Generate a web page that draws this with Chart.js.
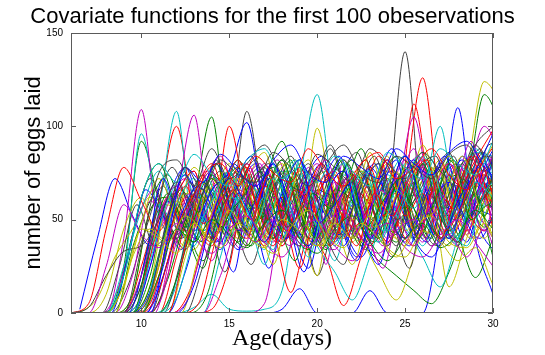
<!DOCTYPE html>
<html>
<head>
<meta charset="utf-8">
<script src="https://cdn.jsdelivr.net/npm/chart.js@4/dist/chart.umd.min.js"></script>
<style>
  html, body { margin: 0; padding: 0; background: #fff; }
  canvas { display: block; }
</style>
</head>
<body>
<canvas id="eggChart" width="545" height="355"></canvas>
<script>
const ageWhole = [6, 7, 8, 9, 10, 11, 12, 13, 14, 15, 16, 17, 18, 19, 20, 21, 22, 23, 24, 25, 26, 27, 28, 29, 30]
const ageQuarter = [6.25, 7.25, 8.25, 9.25, 10.25, 11.25, 12.25, 13.25, 14.25, 15.25, 16.25, 17.25, 18.25, 19.25, 20.25, 21.25, 22.25, 23.25, 24.25, 25.25, 26.25, 27.25, 28.25, 29.25, 30.25]
const ageHalf = [6.5, 7.5, 8.5, 9.5, 10.5, 11.5, 12.5, 13.5, 14.5, 15.5, 16.5, 17.5, 18.5, 19.5, 20.5, 21.5, 22.5, 23.5, 24.5, 25.5, 26.5, 27.5, 28.5, 29.5, 30.5]
const ageThreeQuarter = [6.75, 7.75, 8.75, 9.75, 10.75, 11.75, 12.75, 13.75, 14.75, 15.75, 16.75, 17.75, 18.75, 19.75, 20.75, 21.75, 22.75, 23.75, 24.75, 25.75, 26.75, 27.75, 28.75, 29.75, 30.75]
const xTicks = [10, 15, 20, 25, 30]
const yTicks = [0, 50, 100, 150]

// eggs laid per fly
const fly01 = [2, 40, 72, 52, 36, 62, 78, 50, 34, 64, 80, 56, 40, 66, 52, 36, 64, 80, 54, 40, 66, 58, 38, 72, 82]
const fly02 = [0, 0, 0, 25, 92, 60, 38, 58, 74, 50, 62, 78, 48, 36, 66, 58, 40, 64, 82, 56, 44, 66, 74, 52, 74]
const fly03 = [0, 0, 0, 0, 25, 60, 100, 52, 36, 66, 78, 50, 58, 72, 40, 52, 74, 60, 38, 64, 82, 58, 40, 62, 70]
const fly04 = [0, 0, 0, 20, 96, 52, 40, 64, 56, 76, 50, 34, 62, 74, 54, 58, 68, 40, 56, 78, 52, 64, 36, 62, 80]
const fly05 = [0, 0, 0, 40, 109, 46, 64, 76, 40, 58, 72, 54, 36, 62, 80, 56, 40, 66, 52, 38, 64, 78, 52, 60, 86]
const fly06 = [0, 8, 30, 45, 62, 48, 36, 66, 56, 40, 72, 52, 42, 64, 76, 50, 38, 62, 56, 72, 48, 36, 66, 74, 60]
const fly07 = [0, 0, 0, 0, 10, 55, 42, 62, 76, 52, 108, 56, 38, 52, 20, 50, 66, 74, 52, 40, 62, 78, 56, 68, 58]
const fly08 = [0, 0, 0, 0, 0, 20, 58, 44, 66, 76, 102, 54, 38, 62, 72, 50, 58, 78, 62, 40, 56, 72, 80, 58, 52]
const fly09 = [0, 0, 0, 0, 15, 58, 40, 62, 105, 44, 60, 74, 50, 36, 64, 58, 72, 44, 56, 78, 54, 38, 62, 76, 60]
const fly10 = [0, 0, 0, 0, 0, 0, 30, 62, 48, 100, 58, 38, 58, 76, 52, 40, 66, 58, 36, 62, 78, 56, 68, 86, 64]
const fly11 = [0, 0, 0, 0, 10, 55, 108, 44, 60, 72, 42, 58, 76, 52, 38, 64, 42, 56, 74, 58, 36, 62, 78, 52, 68]
const fly12 = [0, 0, 0, 0, 0, 30, 62, 106, 46, 58, 72, 42, 60, 78, 52, 38, 66, 58, 40, 64, 76, 52, 36, 68, 84]
const fly13 = [0, 0, 0, 0, 0, 20, 55, 66, 42, 58, 72, 48, 62, 40, 99, 52, 38, 62, 76, 54, 40, 60, 78, 56, 66]
const fly14 = [0, 0, 0, 0, 15, 52, 64, 40, 62, 76, 44, 58, 72, 42, 54, 78, 60, 40, 58, 140, 50, 36, 64, 76, 56]
const fly15 = [0, 0, 0, 0, 0, 25, 62, 38, 52, 80, 58, 24, 60, 72, 84, 50, 28, 64, 88, 58, 40, 70, 52, 86, 76]
const fly16 = [0, 0, 0, 0, 20, 60, 50, 38, 64, 76, 48, 40, 68, 58, 44, 62, 76, 52, 38, 60, 78, 56, 68, 117, 100]
const fly17 = [0, 0, 0, 0, 0, 25, 65, 48, 38, 70, 58, 36, 60, 78, 52, 40, 66, 58, 38, 70, 126, 58, 38, 56, 74]
const fly18 = [0, 0, 0, 0, 0, 0, 0, 3, 10, 2, 1, 2, 12, 70, 117, 56, 44, 58, 68, 48, 54, 72, 58, 46, 62]
const fly19 = [0, 0, 0, 0, 0, 0, 0, 0, 0, 0, 0, 5, 55, 66, 40, 34, 56, 68, 48, 58, 72, 42, 54, 74, 64]
const fly20 = [0, 0, 0, 10, 55, 62, 42, 58, 74, 54, 38, 62, 70, 46, 36, 60, 76, 56, 40, 64, 74, 54, 76, 124, 112]
const fly21 = [0, 0, 25, 58, 36, 48, 70, 52, 22, 62, 78, 56, 40, 66, 90, 60, 38, 52, 74, 46, 62, 84, 56, 70, 66]
const fly22 = [0, 0, 0, 0, 0, 0, 0, 0, 0, 0, 0, 0, 2, 13, 0, 0, 0, 12, 0, 0, 0, 45, 110, 40, 10]
const fly23 = [0, 0, 0, 10, 55, 62, 46, 58, 70, 50, 60, 40, 54, 64, 44, 50, 38, 28, 20, 12, 5, 22, 48, 62, 72]
const fly24 = [0, 0, 0, 0, 30, 62, 44, 58, 72, 52, 38, 60, 76, 54, 40, 64, 56, 70, 46, 112, 58, 40, 56, 74, 62]
const fly25 = [0, 0, 0, 0, 20, 58, 46, 66, 42, 60, 74, 52, 40, 66, 56, 38, 60, 74, 52, 62, 66, 100, 52, 60, 74]
const fly26 = [0, 0, 0, 0, 25, 58, 72, 44, 60, 76, 52, 38, 66, 58, 42, 70, 56, 40, 62, 105, 56, 42, 70, 100, 84]
const fly27 = [0, 0, 0, 0, 15, 58, 48, 62, 54, 44, 66, 58, 48, 62, 44, 54, 40, 22, 7, 30, 58, 14, 40, 62, 70]
const fly28 = [0, 0, 0, 15, 45, 68, 40, 56, 82, 50, 26, 58, 74, 60, 40, 70, 86, 54, 30, 62, 80, 50, 66, 88, 48]
const fly29 = [0, 0, 0, 0, 25, 60, 40, 70, 52, 34, 62, 80, 50, 36, 58, 44, 30, 52, 66, 40, 30, 48, 62, 40, 30]
const fly30 = [0, 0, 0, 20, 62, 80, 56, 38, 74, 62, 44, 70, 92, 58, 40, 66, 82, 50, 36, 68, 86, 60, 42, 19, 40]
const fly31 = [0, 0, 0, 0, 0, 20, 62, 54, 46, 66, 58, 44, 11, 40, 30, 4, 30, 56, 64, 50, 66, 58, 44, 62, 72]
const fly32 = [0, 0, 0, 0, 0, 0, 15, 55, 46, 62, 70, 50, 44, 58, 36, 22, 7, 30, 56, 46, 30, 14, 40, 64, 70]
const fly33 = [0, 0, 15, 50, 66, 40, 58, 76, 48, 34, 64, 82, 54, 38, 60, 72, 46, 24, 66, 84, 50, 62, 92, 56, 46]
const fly34 = [0, 0, 10, 45, 62, 36, 52, 78, 60, 40, 70, 86, 52, 44, 72, 50, 26, 58, 80, 62, 90, 58, 40, 66, 80]
const fly35 = [0, 0, 5, 42, 72, 50, 34, 60, 76, 52, 38, 64, 84, 56, 36, 50, 74, 58, 70, 40, 68, 86, 54, 72, 90]
const fly36 = [0, 0, 0, 30, 66, 52, 34, 58, 80, 60, 42, 72, 54, 22, 66, 84, 56, 40, 72, 52, 38, 64, 82, 60, 95]
const fly37 = [0, 0, 0, 35, 60, 74, 48, 28, 56, 82, 60, 40, 72, 50, 34, 62, 88, 58, 42, 70, 56, 82, 64, 46, 62]
const fly38 = [0, 0, 0, 0, 0, 0, 0, 0, 2, 25, 68, 50, 62, 40, 64, 74, 50, 36, 62, 70, 54, 40, 64, 76, 58]
const fly39 = [0, 0, 0, 25, 55, 76, 50, 36, 66, 40, 72, 56, 38, 82, 60, 36, 62, 74, 48, 80, 64, 40, 58, 86, 84]
const fly40 = [0, 0, 0, 20, 60, 46, 34, 64, 84, 56, 40, 62, 52, 78, 26, 82, 58, 28, 62, 88, 52, 70, 42, 76, 78]
const fly41 = [0, 0, 0, 15, 48, 72, 50, 34, 58, 80, 62, 40, 68, 50, 20, 74, 56, 86, 50, 36, 62, 82, 56, 40, 66]
const fly42 = [0, 0, 0, 12, 52, 78, 56, 40, 70, 44, 54, 76, 44, 62, 88, 56, 34, 64, 48, 76, 84, 50, 62, 90, 92]
const fly43 = [0, 0, 0, 0, 30, 72, 48, 62, 38, 66, 84, 52, 40, 70, 56, 42, 62, 80, 50, 36, 66, 52, 84, 68, 50]
const fly44 = [0, 0, 0, 0, 35, 64, 44, 24, 62, 78, 50, 58, 82, 40, 64, 54, 36, 68, 84, 56, 40, 74, 50, 64, 82]
const fly45 = [0, 5, 45, 78, 60, 44, 64, 76, 40, 54, 80, 56, 36, 62, 74, 44, 62, 78, 48, 62, 80, 50, 64, 82, 98]
const fly46 = [0, 0, 0, 0, 28, 60, 74, 44, 58, 82, 52, 34, 64, 56, 40, 74, 62, 38, 58, 80, 62, 40, 70, 84, 60]
const fly47 = [0, 0, 0, 0, 20, 52, 68, 54, 28, 62, 80, 56, 38, 64, 50, 70, 42, 58, 82, 60, 38, 64, 80, 56, 40]
const fly48 = [0, 0, 0, 0, 18, 55, 64, 40, 72, 56, 38, 64, 82, 52, 36, 62, 76, 48, 64, 50, 78, 56, 40, 62, 76]
const fly49 = [0, 3, 20, 33, 36, 50, 70, 50, 40, 66, 56, 60, 82, 50, 36, 62, 74, 50, 64, 84, 60, 40, 66, 90, 70]
const fly50 = [0, 0, 0, 0, 12, 50, 74, 52, 38, 64, 56, 80, 48, 24, 62, 76, 52, 64, 82, 42, 58, 70, 48, 78, 95]
const fly51 = [0, 0, 0, 0, 8, 40, 66, 54, 80, 50, 36, 62, 76, 46, 58, 82, 52, 38, 64, 78, 50, 40, 72, 60, 74]
const fly52 = [0, 0, 0, 0, 5, 38, 68, 48, 62, 82, 52, 36, 64, 56, 74, 40, 60, 84, 50, 36, 64, 80, 56, 44, 66]
const fly53 = [0, 0, 0, 0, 0, 30, 58, 72, 42, 62, 54, 26, 66, 82, 46, 58, 68, 40, 70, 84, 54, 38, 64, 88, 72]
const fly54 = [0, 0, 0, 0, 0, 35, 64, 50, 36, 66, 80, 46, 58, 66, 40, 74, 56, 36, 62, 80, 52, 68, 84, 56, 84]
const fly55 = [0, 0, 0, 0, 0, 25, 60, 46, 72, 52, 36, 64, 80, 56, 40, 66, 50, 62, 84, 44, 58, 76, 50, 74, 90]
const fly56 = [0, 0, 0, 0, 0, 28, 55, 74, 46, 58, 68, 40, 62, 80, 54, 42, 70, 56, 36, 64, 82, 50, 70, 86, 60]
const fly57 = [0, 0, 0, 0, 0, 20, 52, 68, 50, 22, 70, 56, 40, 64, 80, 52, 30, 62, 76, 46, 64, 84, 54, 40, 58]
const fly58 = [0, 0, 0, 0, 0, 18, 50, 70, 56, 38, 62, 78, 46, 34, 64, 82, 54, 40, 68, 56, 36, 64, 82, 52, 86]
const fly59 = [0, 0, 0, 0, 0, 12, 45, 64, 80, 52, 40, 68, 56, 24, 62, 76, 46, 58, 82, 52, 64, 40, 68, 84, 45]
const fly60 = [0, 0, 0, 0, 0, 10, 48, 72, 50, 62, 40, 64, 82, 54, 38, 62, 76, 44, 58, 84, 62, 38, 56, 74, 78]
const fly61 = [0, 0, 0, 0, 0, 5, 38, 62, 76, 46, 58, 80, 52, 36, 64, 56, 76, 40, 60, 82, 52, 64, 38, 62, 84]
const fly62 = [0, 0, 0, 0, 0, 0, 30, 62, 44, 72, 56, 26, 64, 82, 52, 40, 68, 56, 76, 44, 62, 84, 56, 40, 64]
const fly63 = [0, 0, 0, 0, 0, 0, 28, 64, 50, 36, 66, 80, 46, 58, 76, 40, 62, 84, 52, 24, 64, 56, 80, 60, 78]
const fly64 = [0, 0, 0, 0, 0, 0, 22, 55, 70, 44, 60, 80, 56, 36, 64, 76, 46, 26, 62, 82, 56, 40, 66, 80, 54]
const fly65 = [0, 0, 0, 0, 0, 0, 18, 50, 72, 56, 36, 62, 82, 54, 40, 66, 60, 42, 72, 56, 80, 52, 38, 64, 30]
const fly66 = [0, 0, 0, 0, 0, 0, 12, 45, 64, 80, 52, 38, 66, 56, 36, 62, 82, 52, 64, 40, 70, 56, 84, 60, 70]
const fly67 = [0, 0, 0, 0, 0, 0, 8, 40, 60, 76, 46, 62, 50, 80, 56, 28, 64, 76, 44, 60, 84, 56, 40, 70, 62]
const fly68 = [0, 0, 0, 0, 0, 0, 5, 35, 62, 50, 74, 48, 36, 64, 82, 54, 40, 66, 56, 36, 62, 80, 64, 44, 88]
const fly69 = [0, 0, 0, 0, 0, 0, 0, 30, 60, 72, 44, 64, 80, 50, 36, 62, 76, 46, 58, 82, 52, 62, 84, 56, 35]
const fly70 = [0, 0, 0, 0, 0, 0, 0, 25, 55, 68, 82, 46, 58, 76, 42, 26, 64, 80, 50, 60, 74, 44, 62, 84, 82]
const fly71 = [0, 0, 0, 0, 0, 0, 0, 15, 50, 72, 56, 38, 64, 82, 48, 58, 70, 40, 62, 84, 56, 38, 60, 76, 96]
const fly72 = [0, 0, 0, 0, 0, 0, 0, 10, 48, 62, 76, 50, 28, 64, 56, 80, 46, 60, 72, 40, 62, 82, 50, 58, 40]
const fly73 = [0, 0, 0, 0, 0, 0, 0, 5, 40, 66, 50, 74, 44, 60, 80, 56, 36, 64, 52, 72, 82, 44, 58, 80, 55]
const fly74 = [0, 0, 0, 0, 0, 0, 0, 0, 30, 62, 48, 72, 56, 30, 64, 80, 50, 38, 66, 56, 76, 48, 36, 64, 74]
const fly75 = [0, 0, 25, 58, 42, 35, 48, 40, 32, 45, 52, 38, 30, 44, 50, 36, 28, 40, 48, 35, 30, 42, 50, 38, 25]
const fly76 = [0, 0, 0, 30, 45, 38, 52, 44, 35, 48, 40, 32, 46, 55, 42, 35, 48, 40, 30, 45, 52, 38, 35, 48, 30]
const fly77 = [0, 0, 0, 0, 35, 75, 82, 68, 88, 72, 80, 90, 74, 66, 85, 78, 70, 88, 80, 72, 86, 76, 68, 90, 100]
const fly78 = [0, 0, 0, 0, 0, 40, 78, 70, 85, 76, 68, 82, 90, 75, 70, 84, 78, 72, 88, 80, 74, 86, 92, 78, 70]
const fly79 = [0, 0, 0, 0, 0, 20, 45, 38, 50, 42, 35, 48, 55, 40, 32, 45, 52, 38, 28, 40, 48, 35, 42, 55, 45]
const fly80 = [0, 0, 0, 0, 0, 0, 35, 72, 80, 68, 84, 75, 70, 88, 76, 68, 80, 86, 72, 78, 88, 74, 66, 82, 95]
const fly81 = [0, 0, 0, 20, 62, 80, 70, 85, 74, 68, 82, 88, 72, 78, 70, 84, 76, 68, 86, 78, 72, 88, 80, 74, 92]
const fly82 = [0, 0, 0, 0, 0, 0, 0, 0, 20, 45, 38, 50, 42, 35, 48, 55, 40, 32, 44, 50, 36, 42, 30, 45, 20]
const fly83 = [0, 0, 0, 15, 45, 40, 32, 48, 38, 55, 42, 35, 50, 44, 36, 48, 40, 52, 35, 30, 44, 38, 28, 35, 15]
const fly84 = [0, 0, 0, 0, 10, 52, 78, 66, 82, 74, 70, 86, 78, 68, 80, 90, 75, 70, 84, 78, 72, 85, 90, 76, 96]

const flies = [
  fly01, fly02, fly03, fly04, fly05, fly06, fly07, fly08, fly09, fly10, fly11, fly12,
  fly13, fly14, fly15, fly16, fly17, fly18, fly19, fly20, fly21, fly22, fly23, fly24,
  fly25, fly26, fly27, fly28, fly29, fly30, fly31, fly32, fly33, fly34, fly35, fly36,
  fly37, fly38, fly39, fly40, fly41, fly42, fly43, fly44, fly45, fly46, fly47, fly48,
  fly49, fly50, fly51, fly52, fly53, fly54, fly55, fly56, fly57, fly58, fly59, fly60,
  fly61, fly62, fly63, fly64, fly65, fly66, fly67, fly68, fly69, fly70, fly71, fly72,
  fly73, fly74, fly75, fly76, fly77, fly78, fly79, fly80, fly81, fly82, fly83, fly84
]
// which flies were read at an offset from whole days (the rest use ageWhole)
const onQuarterDays = new Set([fly15, fly28, fly36, fly43, fly51, fly57, fly63, fly69, fly73])
const onHalfDays = new Set([
  fly01, fly06, fly16, fly20, fly23, fly24, fly26, fly27, fly29, fly31, fly35, fly37,
  fly40, fly44, fly46, fly50, fly52, fly56, fly58, fly62, fly64, fly68, fly70, fly74,
  fly76, fly78, fly80, fly82, fly84
])
const onThreeQuarterDays = new Set([fly21, fly33, fly42, fly48, fly54, fly60, fly66, fly72])

// old matlab line colour order: b g r c m y k
const colorOrder = ['#0000ff', '#008000', '#ff0000', '#00bfbf', '#bf00bf', '#bfbf00', '#404040']

function agesFor (eggs) {
  if (onQuarterDays.has(eggs)) return ageQuarter
  if (onHalfDays.has(eggs)) return ageHalf
  if (onThreeQuarterDays.has(eggs)) return ageThreeQuarter
  return ageWhole
}

const datasets = flies.map((eggs, i) => {
  const ages = agesFor(eggs)
  return {
    label: 'fly ' + (i + 1),
    data: ages.map((a, j) => ({ x: a, y: eggs[j] })),
    borderColor: colorOrder[i % colorOrder.length],
    borderWidth: 1,
    pointRadius: 0,
    fill: false,
    cubicInterpolationMode: 'monotone',
    yAxisID: 'y',
    order: flies.length - i
  }
})

// axes box with inward ticks on all four sides
const boxPlugin = {
  id: 'boxTicks',
  afterDraw (chart) {
    const { ctx, chartArea: a } = chart
    const x = chart.scales.x
    const y = chart.scales.y
    ctx.save()
    ctx.strokeStyle = '#5a5a5a'
    ctx.lineWidth = 1
    ctx.beginPath()
    ctx.rect(a.left + 0.5, a.top + 0.5, a.right - a.left - 1, a.bottom - a.top - 1)
    xTicks.forEach(v => {
      const px = Math.round(x.getPixelForValue(v)) + 0.5
      ctx.moveTo(px, a.bottom)
      ctx.lineTo(px, a.bottom - 5)
      ctx.moveTo(px, a.top)
      ctx.lineTo(px, a.top + 5)
    })
    yTicks.forEach(v => {
      const py = Math.round(y.getPixelForValue(v)) + 0.5
      ctx.moveTo(a.left, py)
      ctx.lineTo(a.left + 5, py)
      ctx.moveTo(a.right, py)
      ctx.lineTo(a.right - 5, py)
    })
    ctx.stroke()
    ctx.restore()
  }
}

const tickFont = { family: "'Liberation Sans', Arial, sans-serif", size: 10 }

// eslint-disable-next-line no-unused-vars
const eggChart = new Chart(document.getElementById('eggChart'), {
  type: 'line',
  data: { datasets },
  options: {
    responsive: false,
    animation: false,
    events: [],
    layout: { padding: 0 },
    plugins: {
      legend: { display: false },
      tooltip: { enabled: false },
      title: {
        display: true,
        text: 'Covariate functions for the first 100 obeservations',
        color: '#000',
        font: { family: "'Liberation Sans', Arial, sans-serif", size: 22, weight: 'normal' },
        padding: { top: 4, bottom: 2.6 }
      }
    },
    scales: {
      x: {
        type: 'linear',
        min: 6,
        max: 30,
        grid: { display: false, drawTicks: false },
        border: { display: false },
        afterBuildTicks: s => { s.ticks = xTicks.map(v => ({ value: v })) },
        ticks: { autoSkip: false, maxRotation: 0, padding: 5, color: '#000', font: tickFont },
        title: {
          display: true,
          text: 'Age(days)',
          color: '#000',
          font: { family: "'Liberation Serif', 'DejaVu Serif', serif", size: 24 },
          padding: { top: 0, bottom: 2 }
        },
        afterFit: s => { s.height = 42 }
      },
      y: {
        type: 'linear',
        position: 'left',
        min: 0,
        max: 150,
        grid: { display: false, drawTicks: false },
        border: { display: false },
        afterBuildTicks: s => { s.ticks = yTicks.map(v => ({ value: v })) },
        ticks: { padding: 8, color: '#000', font: tickFont },
        title: {
          display: true,
          text: 'number of eggs laid',
          color: '#000',
          font: { family: "'Liberation Sans', Arial, sans-serif", size: 22 },
          padding: { top: 21, bottom: 0 }
        },
        afterFit: s => { s.width = 71 }
      },
      y2: {
        type: 'linear',
        position: 'right',
        min: 0,
        max: 150,
        grid: { display: false, drawTicks: false },
        border: { display: false },
        ticks: { display: false },
        afterFit: s => { s.width = 52 }
      }
    }
  },
  plugins: [boxPlugin]
})
</script>
</body>
</html>
